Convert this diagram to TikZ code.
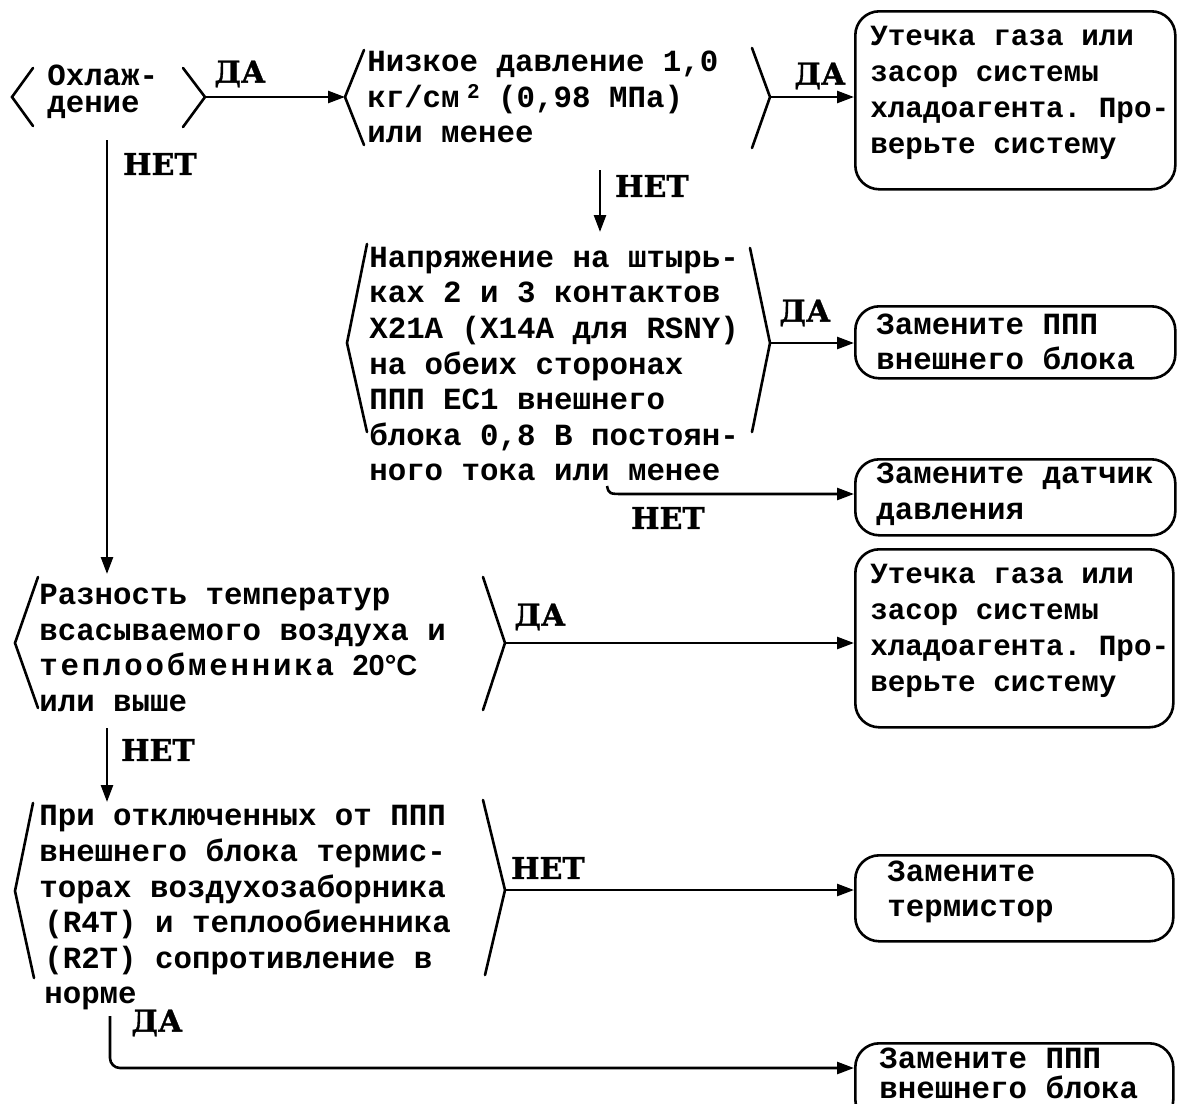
\documentclass[tikz,border=0pt]{standalone}
\usepackage{fontspec}
\setmonofont{Liberation Mono}
\newfontfamily\lblfont[BoldFeatures={FakeBold=1.2}]{DejaVu Serif}
\newfontfamily\degfont{Liberation Sans}
\usetikzlibrary{arrows.meta}
\begin{document}
\begin{tikzpicture}[x=1pt,y=-1pt,
  line width=2.6pt,
  txt/.style={font=\ttfamily\bfseries\fontsize{30.8}{35.6}\selectfont, align=left, inner sep=0, anchor=west},
  smalltxt/.style={txt, font=\ttfamily\bfseries\fontsize{29.3}{36}\selectfont},
  lbl/.style={font=\lblfont\bfseries\fontsize{30}{30}\selectfont, inner sep=0},
  box/.style={draw, rounded corners=24pt, inner sep=0, anchor=north west},
  arr/.style={-{Triangle[length=17pt,width=12pt]}},
  brk/.style={line join=miter, line cap=round},
  wire/.style={arr, rounded corners=10pt}
]
\useasboundingbox (0,0) rectangle (1180,1103);
\clip (0,0) rectangle (1180,1103);

% ---------- decision 1 ----------
\node[txt, font=\ttfamily\bfseries\fontsize{30.8}{27}\selectfont] (d1t) at (46,92) {Охлаж-\\дение};
\draw[brk] (33,68) -- (12,97) coordinate (d1L) -- (33,126);
\draw[brk] (183,68) -- (205,97) coordinate (d1R) -- (183,127);

% ---------- decision 2 ----------
\node[txt] (d2t) at (366,97) {Низкое давление 1,0\\кг/см\makebox[20pt][r]{\raisebox{9pt}{\fontsize{21}{21}\selectfont 2}} (0,98 МПа)\\или менее};
\draw[brk] (364,50) -- (345,97) coordinate (d2L) -- (364,145);
\draw[brk] (752,48) -- (770,97) coordinate (d2R) -- (752,148);

% ---------- decision 3 ----------
\node[txt] (d3t) at (368,364) {Напряжение на штырь-\\ках 2 и 3 контактов\\X21A (X14A для RSNY)\\на обеих сторонах\\ППП EC1 внешнего\\блока 0,8 В постоян-\\ного тока или менее};
\draw[brk] (367,244) -- (347,343) coordinate (d3L) -- (367,432);
\draw[brk] (750,248) -- (770,343) coordinate (d3R) -- (752,432);

% ---------- decision 4 ----------
\node[txt] (d4t) at (38,648) {Разность температур\\всасываемого воздуха и\\{\addfontfeature{LetterSpace=9}теплообменника} {\degfont\bfseries\fontsize{29}{29}\selectfont 20°C}\\или выше};
\draw[brk] (38,577) -- (15,643) coordinate (d4L) -- (38,708);
\draw[brk] (483,577) -- (505,643) coordinate (d4R) -- (483,710);

% ---------- decision 5 ----------
\node[txt] (d5t) at (38,908) {При отключенных от ППП\\внешнего блока термис-\\торах воздухозаборника\\\hspace*{5pt}(R4T) и теплообиенника\\\hspace*{5pt}(R2T) сопротивление в\\\hspace*{5pt}норме};
\draw[brk] (33,803) -- (15,891) coordinate (d5L) -- (34,978);
\draw[brk] (483,800) -- (505,890) coordinate (d5R) -- (485,975);

% ---------- result boxes ----------
\node[box, minimum width=320pt, minimum height=178pt] (r1) at (854,10) {};
\node[smalltxt] (r1t) at (869,93) {Утечка газа или\\засор системы\\хладоагента. Про-\\верьте систему};
\node[box, minimum width=320pt, minimum height=72pt] (r2) at (854,305) {};
\node[txt] (r2t) at (875,342) {Замените ППП\\внешнего блока};
\node[box, minimum width=320pt, minimum height=76pt] (r3) at (854,458) {};
\node[txt] (r3t) at (875,494) {Замените датчик\\давления};
\node[box, minimum width=318pt, minimum height=178pt] (r4) at (854,548) {};
\node[smalltxt] (r4t) at (869,631) {Утечка газа или\\засор системы\\хладоагента. Про-\\верьте систему};
\node[box, minimum width=318pt, minimum height=86pt] (r5) at (854,854) {};
\node[txt] (r5t) at (886,892) {Замените\\термистор};
\node[box, minimum width=318pt, minimum height=80pt] (r6) at (854,1042) {};
\node[txt, font=\ttfamily\bfseries\fontsize{30.8}{30}\selectfont] (r6t) at (878,1073) {Замените ППП\\внешнего блока};

% ---------- connector end points ----------
\coordinate (d1b) at (107,140);
\coordinate (d4top) at (107,574);
\coordinate (d2b) at (600,170);
\coordinate (d3top) at (600,232);
\coordinate (d3n) at (607,486);
\coordinate (d4b) at (107,728);
\coordinate (d5top) at (107,802);
\coordinate (d5b) at (110,1016);
\coordinate (r6in) at (854,1068);

% ---------- connectors ----------
\draw[arr] (d1R) -- (d2L);
\draw[arr] (d2R) -- (d2R -| r1.west);
\draw[arr] (d2b) -- (d3top);
\draw[arr] (d3R) -- (d3R -| r2.west);
\draw[arr] (d3n) .. controls (609,494) .. (625,494) -- (625,494 -| r3.west);
\draw[arr] (d1b) -- (d4top);
\draw[arr] (d4R) -- (d4R -| r4.west);
\draw[arr] (d4b) -- (d5top);
\draw[arr] (d5R) -- (d5R -| r5.west);
\draw[wire] (d5b) |- (r6in);

% ---------- labels ----------
\node[lbl] (l1) at (240,74) {ДА};
\node[lbl] (l2) at (820,76) {ДА};
\node[lbl] (l3) at (160,164) {НЕТ};
\node[lbl] (l4) at (652,186) {НЕТ};
\node[lbl] (l5) at (805,313) {ДА};
\node[lbl] (l6) at (668,518) {НЕТ};
\node[lbl] (l7) at (540,617) {ДА};
\node[lbl] (l8) at (158,750) {НЕТ};
\node[lbl] (l9) at (548,868) {НЕТ};
\node[lbl] (l10) at (157,1023) {ДА};
\end{tikzpicture}
\end{document}
